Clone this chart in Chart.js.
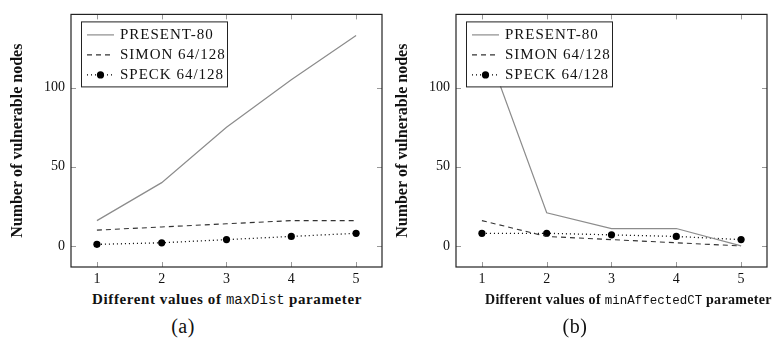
<!DOCTYPE html>
<html>
<head>
<meta charset="utf-8">
<script src="https://cdn.jsdelivr.net/npm/chart.js@4/dist/chart.umd.min.js"></script>
<style>
  html, body { margin: 0; padding: 0; background: #fff; }
  body { width: 773px; height: 347px; position: relative; overflow: hidden; }
  canvas { position: absolute; top: 0; }
  .xt { position: absolute; white-space: nowrap; text-align: center; font: bold 15px "Liberation Serif", serif; letter-spacing: 0.6px; color: #111; }
  .xt code { font: 14px "Liberation Mono", monospace; letter-spacing: 0; }
  .xt.r { text-align: left; font-size: 14px; letter-spacing: 0.3px; top: 292px !important; }
  .xt.r code { font-size: 12.5px; }
  .cap { position: absolute; white-space: nowrap; text-align: center; font: 20px "Liberation Serif", serif; letter-spacing: 0.5px; color: #111; }
</style>
</head>
<body>
<canvas id="ca" width="390" height="290" style="left:0px"></canvas>
<canvas id="cb" width="388" height="290" style="left:385px"></canvas>
<div class="xt" style="left:27px; width:400px; top:291px;">Different values of <code>maxDist</code> parameter</div>
<div class="xt r" style="left:485px; top:292px;">Different values of <code>minAffectedCT</code> parameter</div>
<div class="cap" style="left:133px; width:100px; top:315px;">(a)</div>
<div class="cap" style="left:525px; width:100px; top:315px;">(b)</div>
<script>
const xValues = [1, 2, 3, 4, 5];
const yTickValues = [0, 50, 100];
const seriesLabels = ['PRESENT-80', 'SIMON 64/128', 'SPECK 64/128'];
const presentA = [16, 40, 75, 105, 133];
const simonA = [10, 12, 14, 16, 16];
const speckA = [1, 2, 4, 6, 8];
const presentB = [133, 21, 11, 11, 0];
const simonB = [16, 6, 4, 2, 0];
const speckB = [8, 8, 7, 6, 4];
const yTitle = 'Number of vulnerable nodes';

const SERIF = '"Liberation Serif", serif';
const styles = [
  { borderColor: '#8c8c8c', borderWidth: 1.2, pointRadius: 0, borderDash: [] },
  { borderColor: '#333', borderWidth: 1.1, pointRadius: 0, borderDash: [5, 4] },
  { borderColor: '#000', borderWidth: 1.3, pointRadius: 3.6, borderDash: [1, 3],
    pointBackgroundColor: '#000', pointBorderColor: '#000', pointBorderWidth: 0 }
];

const framePlugin = {
  id: 'frame',
  afterDatasetsDraw(chart) {
    const ctx = chart.ctx;
    const ca = chart.chartArea;
    const xs = chart.scales.x, ys = chart.scales.y;
    ctx.save();
    ctx.strokeStyle = '#999';
    ctx.lineWidth = 1;
    ctx.setLineDash([]);
    const tl = 5;
    xs.ticks.forEach(t => {
      const px = Math.round(xs.getPixelForValue(t.value)) + 0.5;
      ctx.beginPath();
      ctx.moveTo(px, ca.bottom); ctx.lineTo(px, ca.bottom - tl);
      ctx.moveTo(px, ca.top); ctx.lineTo(px, ca.top + tl);
      ctx.stroke();
    });
    ys.ticks.forEach(t => {
      const py = Math.round(ys.getPixelForValue(t.value)) + 0.5;
      ctx.beginPath();
      ctx.moveTo(ca.left, py); ctx.lineTo(ca.left + tl, py);
      ctx.moveTo(ca.right, py); ctx.lineTo(ca.right - tl, py);
      ctx.stroke();
    });
    ctx.strokeStyle = '#222';
    ctx.lineWidth = 1.2;
    ctx.strokeRect(ca.left, ca.top, ca.right - ca.left, ca.bottom - ca.top);
    const lx = ca.left + 10, ly = ca.top + 7, lw = 146, lh = 65;
    ctx.fillStyle = '#fff';
    ctx.fillRect(lx, ly, lw, lh);
    ctx.strokeStyle = '#222';
    ctx.lineWidth = 1;
    ctx.strokeRect(lx + 0.5, ly + 0.5, lw, lh);
    chart.data.datasets.forEach((ds, i) => {
      const yy = ly + 13 + i * 20;
      ctx.strokeStyle = ds.borderColor;
      ctx.lineWidth = ds.borderWidth;
      ctx.setLineDash(ds.borderDash || []);
      ctx.beginPath();
      ctx.moveTo(lx + 6, yy + 0.5); ctx.lineTo(lx + 33, yy + 0.5);
      ctx.stroke();
      ctx.setLineDash([]);
      if (ds.pointRadius > 0) {
        ctx.fillStyle = ds.pointBackgroundColor;
        ctx.beginPath();
        ctx.arc(lx + 19.5, yy + 0.5, ds.pointRadius, 0, Math.PI * 2);
        ctx.fill();
      }
      ctx.fillStyle = '#111';
      ctx.font = '15px ' + SERIF;
      ctx.letterSpacing = '1px';
      ctx.textBaseline = 'middle';
      ctx.textAlign = 'left';
      ctx.fillText(ds.label, lx + 39, yy + 1);
      ctx.letterSpacing = '0px';
    });
    ctx.restore();
  }
};

function makeChart(id, seriesArrays, padRight) {
  const datasets = seriesArrays.map((arr, i) => Object.assign({
    label: seriesLabels[i],
    data: xValues.map((x, k) => ({ x: x, y: arr[k] })),
    fill: false,
    tension: 0
  }, styles[i]));
  return new Chart(document.getElementById(id), {
    type: 'line',
    data: { datasets },
    plugins: [framePlugin],
    options: {
      responsive: false,
      animation: false,
      devicePixelRatio: 1,
      layout: { padding: { top: 8, right: padRight, left: 0, bottom: 0 } },
      plugins: { legend: { display: false }, tooltip: { enabled: false } },
      scales: {
        x: {
          type: 'linear', min: 0.6, max: 5.4,
          afterBuildTicks: s => { s.ticks = xValues.map(v => ({ value: v })); },
          afterFit: s => { s.height = 23; },
          grid: { display: false, drawTicks: false },
          border: { display: false },
          ticks: { color: '#111', padding: 4, font: { family: SERIF, size: 14 } }
        },
        y: {
          type: 'linear', min: -13.3, max: 146.3,
          afterBuildTicks: s => { s.ticks = yTickValues.map(v => ({ value: v })); },
          afterFit: s => { s.width = 71; },
          grid: { display: false, drawTicks: false },
          border: { display: false },
          ticks: { color: '#111', padding: 6, font: { family: SERIF, size: 14 } },
          title: {
            display: true, text: yTitle, color: '#111',
            font: { family: SERIF, size: 16, weight: 'bold' },
            padding: { top: 8, bottom: 0 }
          }
        }
      }
    }
  });
}

makeChart('ca', [presentA, simonA, speckA], 8);
makeChart('cb', [presentB, simonB, speckB], 6);
</script>
</body>
</html>
